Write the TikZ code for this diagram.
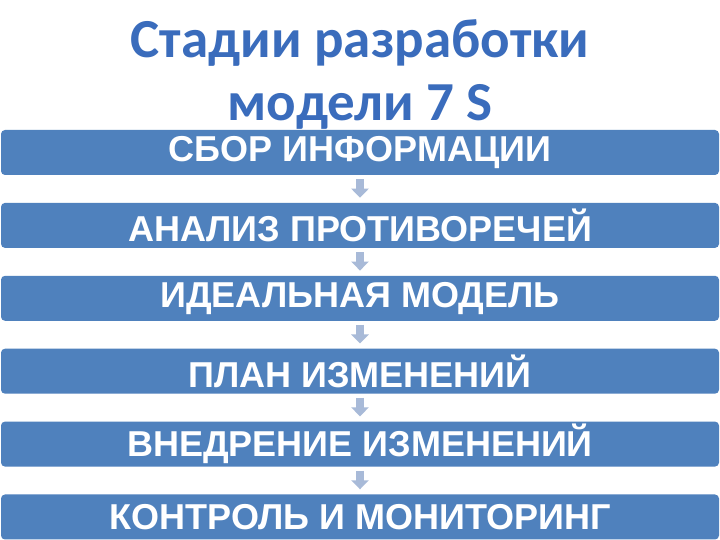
\documentclass[tikz,border=0pt]{standalone}
\usepackage{fontspec}
\setmainfont{Liberation Sans}
\newfontfamily\titlefont{Carlito}
\usetikzlibrary{positioning, arrows.meta}
\definecolor{stageblue}{RGB}{79,129,189}
\definecolor{arrowgray}{RGB}{168,186,216}
\definecolor{titleblue}{RGB}{58,108,188}

\begin{document}
\begin{tikzpicture}[x=1pt, y=1pt,
  stage/.style={fill=stageblue, rounded corners=4pt, minimum width=718pt, minimum height=45pt, inner sep=0pt, text=white, font=\bfseries\fontsize{36}{36}\selectfont},
  heading/.style={text=titleblue, inner sep=0pt, font=\titlefont\bfseries\fontsize{55}{55}\selectfont},
  flowarrow/.style={draw=arrowgray, line width=8pt, -{Triangle[width=17pt, length=9pt]}},
  node distance=27.5pt
]
  \useasboundingbox[fill=white] (0,0) rectangle (720,540);

  % title
  \node[heading, anchor=base] (t1) at (360,482) {Стадии разработки};
  \node[heading, anchor=base] (t2) at (360,419) {модели 7 S};

  % stages
  \node[stage] (s1) at (360,387.5) {СБОР ИНФОРМАЦИИ};
  \node[stage, below=of s1] (s2) {АНАЛИЗ ПРОТИВОРЕЧЕЙ};
  \node[stage, below=of s2] (s3) {ИДЕАЛЬНАЯ МОДЕЛЬ};
  \node[stage, below=of s3] (s4) {ПЛАН ИЗМЕНЕНИЙ};
  \node[stage, below=of s4] (s5) {ВНЕДРЕНИЕ ИЗМЕНЕНИЙ};
  \node[stage, below=of s5] (s6) {КОНТРОЛЬ И МОНИТОРИНГ};

  \foreach \a/\b in {s1/s2, s2/s3, s3/s4, s4/s5, s5/s6}
    \draw[flowarrow] ([yshift=-4pt]\a.south) -- ([yshift=5pt]\b.north);
\end{tikzpicture}
\end{document}
